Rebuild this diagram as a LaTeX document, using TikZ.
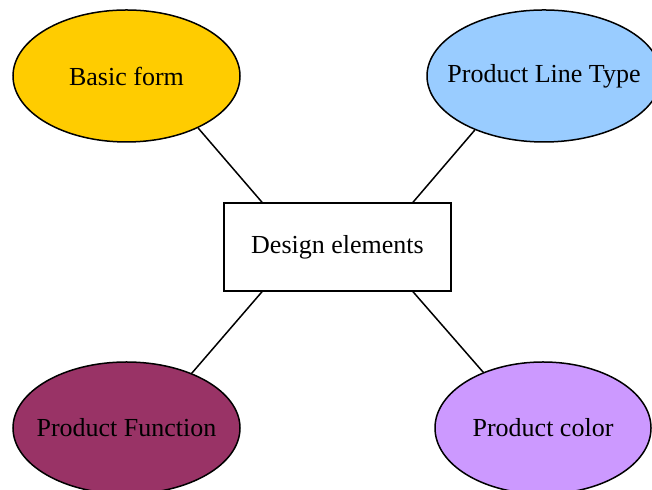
\documentclass[tikz,border=0pt]{standalone}
\usepackage{fontspec}
\setmainfont{Liberation Serif}
\usepackage{xcolor}
\usetikzlibrary{shapes.geometric,calc}

\definecolor{formyellow}{HTML}{FFCC00}
\definecolor{lineblue}{HTML}{99CCFF}
\definecolor{funcplum}{HTML}{993366}
\definecolor{colorlilac}{HTML}{CC99FF}

\begin{document}
\begin{tikzpicture}[x=0.5pt,y=0.5pt,line width=0.75pt,
    every node/.style={align=center,font=\fontsize{13}{15}\selectfont,inner sep=0pt},
    elem/.style={shape=ellipse,draw,inner xsep=-10pt,minimum height=66pt},
    core/.style={shape=rectangle,draw,minimum width=113.5pt,minimum height=44pt}]
  \useasboundingbox (0,0) rectangle (652,490);
  % centre box and the four elements round it
  \node[core] (de) at (337.5,243) {Design elements};
  \node[elem,fill=formyellow,minimum width=113.5pt] (bf) at (126.5,414) {Basic form};
  \node[elem,fill=lineblue,minimum width=117pt] (plt) at (544,414) {Product Line Type};
  \node[elem,fill=funcplum,minimum width=113.5pt] (pf) at (126.5,62) {Product Function};
  \node[elem,fill=colorlilac,minimum width=108pt] (pc) at (543,62) {Product color};
  % connectors
  \draw (bf.-36) -- ($(de.north)+(-75.5,0)$);
  \draw (plt.218) -- ($(de.north)+(75.5,0)$);
  \draw ($(de.south)+(-75.5,0)$) -- (pf.40);
  \draw ($(de.south)+(75.5,0)$) -- (pc.137);
\end{tikzpicture}
\end{document}
